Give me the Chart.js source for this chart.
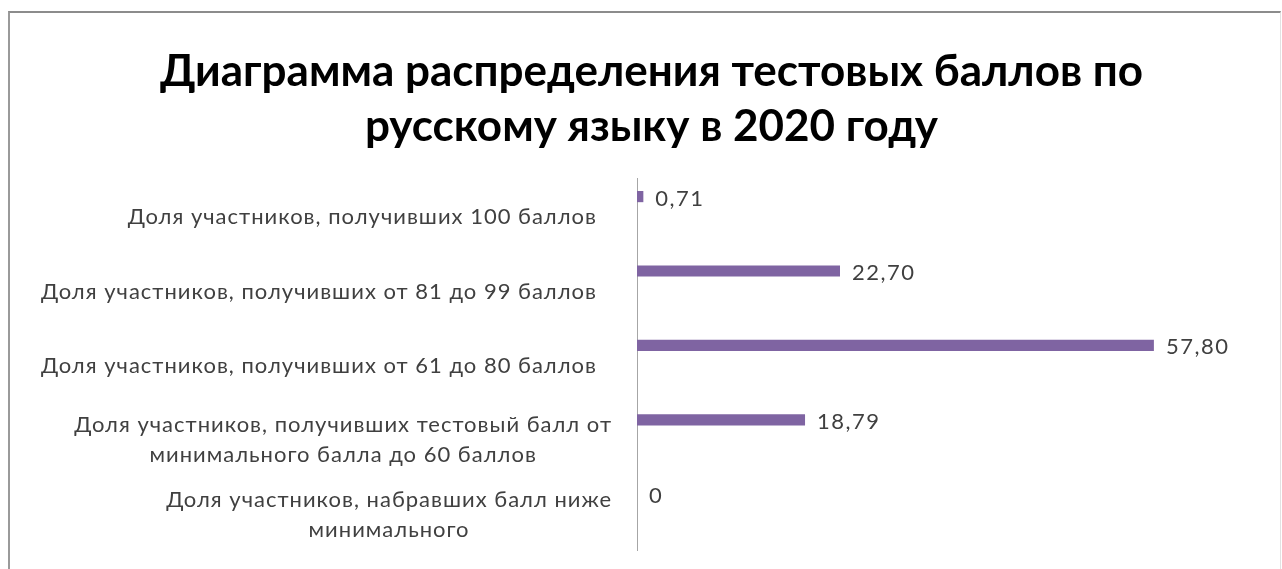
<!DOCTYPE html>
<html>
<head>
<meta charset="utf-8">
<script src="https://cdn.jsdelivr.net/npm/chart.js@4.4.1/dist/chart.umd.min.js"></script>
<style>
    html, body { margin: 0; padding: 0; background: #fff; overflow: hidden; }
    #frame { position: absolute; left: 8px; top: 11px; width: 1270px; height: 600px;
             border-top: 2px solid #8c8c8c; border-left: 2px solid #9a9a9a; border-right: 1px solid #e2e2e2; }
    #wrap { position: absolute; left: 0; top: 0; width: 1282px; height: 569px; }
</style>
</head>
<body>
<div id="frame"></div>
<div id="wrap"><canvas id="chart"></canvas></div>
<script>
const titleLines = ['Диаграмма распределения тестовых баллов по', 'русскому языку в 2020 году'];
const categories = [
    ['Доля участников, получивших 100 баллов'],
    ['Доля участников, получивших от 81 до 99 баллов'],
    ['Доля участников, получивших от 61 до 80 баллов'],
    ['Доля участников, получивших тестовый балл от', 'минимального балла до 60 баллов'],
    ['Доля участников, набравших балл ниже', 'минимального']
];
const shares = [0.71, 22.70, 57.80, 18.79, 0];
const shareLabels = ['0,71', '22,70', '57,80', '18,79', '0'];

const labelFont = '22px Lato';
const labelColor = '#404040';

// category names drawn by hand: single lines right-aligned, wrapped ones centred (like Excel)
const categoryLabels = {
    id: 'categoryLabels',
    afterDraw(chart) {
        const { ctx, scales: { y } } = chart;
        ctx.save();
        ctx.font = labelFont;
        ctx.letterSpacing = '1px';
        ctx.fillStyle = labelColor;
        ctx.textBaseline = 'middle';
        categories.forEach((lines, i) => {
            const cy = y.getPixelForTick(i) + 2;
            if (lines.length === 1) {
                ctx.textAlign = 'right';
                ctx.fillText(lines[0], y.right - 40, cy);
            } else {
                const w = Math.max(...lines.map(l => ctx.measureText(l).width));
                const cx = y.right - 25 - w / 2;
                ctx.textAlign = 'center';
                lines.forEach((l, j) => {
                    ctx.fillText(l, cx, cy + (j - (lines.length - 1) / 2) * 30);
                });
            }
        });
        ctx.restore();
    }
};

const valueLabels = {
    id: 'valueLabels',
    afterDatasetsDraw(chart) {
        const { ctx } = chart;
        const meta = chart.getDatasetMeta(0);
        ctx.save();
        ctx.font = labelFont;
        ctx.letterSpacing = '1.5px';
        ctx.fillStyle = labelColor;
        ctx.textAlign = 'left';
        ctx.textBaseline = 'middle';
        meta.data.forEach((bar, i) => {
            ctx.fillText(shareLabels[i], bar.x + 12, bar.y + 2);
        });
        ctx.restore();
    }
};

new Chart(document.getElementById('chart'), {
    type: 'bar',
    data: {
        labels: categories,
        datasets: [{
            data: shares,
            backgroundColor: '#7f64a2',
            barPercentage: 0.3,
            categoryPercentage: 1
        }, {
            // empty second series, keeps the bars in the upper half of each row
            data: [],
            barPercentage: 0.3,
            categoryPercentage: 1
        }]
    },
    options: {
        indexAxis: 'y',
        responsive: true,
        maintainAspectRatio: false,
        animation: false,
        layout: { padding: { left: 40, right: 19, bottom: 19, top: 0 } },
        plugins: {
            legend: { display: false },
            tooltip: { enabled: false },
            title: {
                display: true,
                text: titleLines,
                color: '#000',
                font: { family: 'Lato', size: 44, weight: 'bold', lineHeight: 1.25 },
                padding: { top: 44, bottom: 24 }
            }
        },
        scales: {
            x: { display: false, min: 0, max: 70 },
            y: {
                grid: { display: false },
                border: { color: '#a6a6a6', width: 1 },
                ticks: { display: false },
                afterFit: s => { s.width = 597; }
            }
        }
    },
    plugins: [categoryLabels, valueLabels]
});
</script>
</body>
</html>
